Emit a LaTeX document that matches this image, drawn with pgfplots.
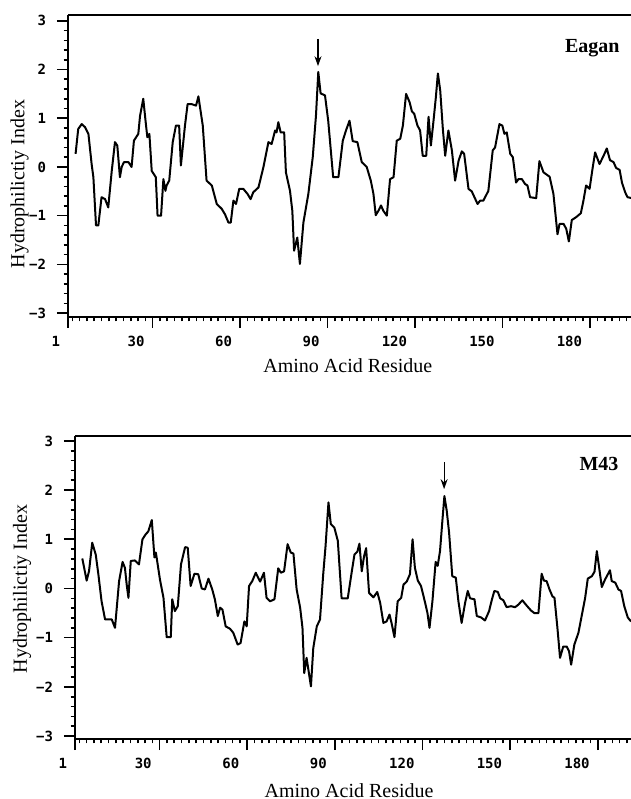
\documentclass[border=0pt]{standalone}
\usepackage{fontspec}
\setmainfont{Liberation Serif}
\newfontfamily\tickfont{DejaVu Sans Mono}
\usepackage{pgfplots}
\pgfplotsset{compat=1.18}
\usetikzlibrary{arrows.meta}

% hydrophilicity profiles, residue vs index
\pgfplotstableread{
r v
3.6 0.27
4.5 0.78
5.7 0.88
6.8 0.82
8.0 0.68
9.1 0.06
9.7 -0.21
10.6 -1.20
11.4 -1.20
12.5 -0.62
13.7 -0.66
14.8 -0.83
16.0 -0.08
17.1 0.51
17.9 0.44
18.8 -0.21
19.4 0.00
20.2 0.10
21.7 0.10
22.8 0.00
23.6 0.54
25.1 0.68
25.7 1.05
26.8 1.40
27.7 0.88
28.2 0.61
28.9 0.68
29.7 -0.08
31.1 -0.21
31.7 -1.00
32.9 -1.00
33.7 -0.25
34.4 -0.49
34.8 -0.38
35.7 -0.28
36.9 0.51
38.0 0.85
39.1 0.85
39.7 0.03
41.1 0.85
42.0 1.29
43.4 1.29
44.9 1.26
45.7 1.45
47.2 0.85
48.5 -0.28
50.3 -0.38
52.0 -0.76
53.7 -0.86
54.8 -0.97
56.0 -1.14
56.8 -1.14
57.7 -0.69
58.6 -0.76
59.7 -0.45
61.1 -0.45
62.5 -0.55
63.6 -0.66
64.5 -0.52
66.3 -0.42
68.0 0.00
69.7 0.51
70.8 0.47
72.0 0.75
72.5 0.71
73.1 0.92
73.9 0.71
75.1 0.71
75.7 -0.11
77.1 -0.49
77.9 -0.90
78.5 -1.72
79.6 -1.45
80.5 -1.99
81.7 -1.14
83.4 -0.55
84.9 0.20
86.0 1.05
86.8 1.95
87.6 1.51
89.1 1.47
90.2 0.95
91.9 -0.21
93.7 -0.21
95.2 0.54
96.3 0.75
97.5 0.95
98.6 0.53
100.2 0.51
101.7 0.10
103.4 0.00
104.8 -0.28
105.7 -0.55
106.5 -0.99
107.4 -0.90
108.3 -0.79
109.1 -0.90
110.3 -1.00
111.4 -0.25
112.6 -0.21
113.7 0.54
114.9 0.58
115.8 0.85
116.9 1.50
118.1 1.33
118.9 1.14
119.7 1.09
120.8 0.85
121.7 0.75
122.6 0.23
123.8 0.23
124.6 1.03
125.4 0.44
126.3 0.95
127.1 1.43
127.8 1.92
128.6 1.57
129.5 0.78
130.3 0.23
131.4 0.75
132.6 0.34
133.7 -0.28
134.9 0.13
136.0 0.32
136.8 0.27
138.3 -0.45
139.4 -0.50
141.4 -0.76
142.3 -0.69
143.4 -0.69
145.1 -0.49
146.6 0.34
147.4 0.40
148.9 0.88
149.9 0.85
150.6 0.68
151.4 0.71
152.6 0.27
153.5 0.20
154.6 -0.32
155.4 -0.25
156.6 -0.25
157.7 -0.35
158.5 -0.38
159.4 -0.62
161.5 -0.64
162.6 0.12
164.0 -0.11
166.1 -0.20
167.4 -0.55
168.8 -1.38
169.5 -1.17
170.9 -1.17
171.8 -1.27
172.7 -1.53
173.7 -1.09
175.2 -1.03
176.8 -0.95
177.7 -0.69
178.6 -0.38
179.8 -0.45
180.9 0.00
181.7 0.30
183.2 0.06
184.6 0.23
185.7 0.38
186.8 0.14
188.0 0.10
188.9 -0.02
190.1 -0.06
190.9 -0.32
192.0 -0.52
192.8 -0.62
194.3 -0.64
}\eagan

\pgfplotstableread{
r v
3.5 0.61
5.0 0.16
5.8 0.35
6.9 0.93
8.1 0.69
9.0 0.29
10.1 -0.26
11.3 -0.63
13.6 -0.63
14.7 -0.80
16.1 0.15
17.3 0.54
18.1 0.42
18.7 0.08
19.3 -0.19
20.1 0.56
21.5 0.57
22.9 0.49
24.1 1.00
25.2 1.10
26.1 1.16
27.3 1.39
28.2 0.63
28.7 0.73
30.1 0.18
31.3 -0.19
32.4 -0.99
33.8 -0.99
34.3 -0.22
35.2 -0.46
36.2 -0.36
37.3 0.49
38.7 0.84
39.6 0.83
40.6 0.05
41.9 0.30
43.2 0.29
44.4 0.00
45.5 -0.02
46.7 0.20
48.0 -0.02
48.9 -0.22
49.9 -0.56
50.7 -0.39
51.5 -0.43
52.6 -0.77
54.1 -0.82
55.2 -0.90
56.7 -1.14
57.7 -1.11
59.0 -0.67
59.8 -0.77
60.6 0.05
61.7 0.15
62.9 0.32
64.4 0.14
65.7 0.32
66.6 -0.19
67.8 -0.26
69.3 -0.22
70.6 0.41
71.5 0.32
72.6 0.35
73.8 0.90
74.9 0.73
75.8 0.71
76.9 -0.02
78.1 -0.39
78.9 -0.80
79.5 -1.72
80.3 -1.41
81.8 -1.99
82.6 -1.21
83.8 -0.77
84.9 -0.63
86.0 0.29
86.8 0.86
87.8 1.75
88.6 1.31
89.8 1.24
91.0 0.97
92.3 -0.20
94.4 -0.20
95.8 0.35
96.7 0.69
97.7 0.75
98.4 0.91
99.2 0.35
100.0 0.66
100.7 0.82
101.7 -0.09
103.2 -0.18
104.5 -0.07
105.5 -0.29
106.6 -0.70
107.7 -0.67
108.7 -0.53
109.4 -0.70
110.4 -0.99
111.5 -0.26
112.7 -0.19
113.5 0.08
114.6 0.14
115.7 0.29
116.6 1.00
117.4 0.42
118.4 0.16
119.5 0.05
120.9 -0.29
121.7 -0.50
122.4 -0.80
123.4 -0.26
124.5 0.54
125.2 0.46
126.0 0.76
126.8 1.37
127.5 1.88
128.3 1.58
129.1 1.14
130.2 0.25
131.4 0.22
132.3 -0.26
133.4 -0.70
134.6 -0.29
135.5 -0.05
136.3 -0.20
137.8 -0.22
138.6 -0.56
140.1 -0.59
141.4 -0.65
142.8 -0.46
143.7 -0.24
144.6 -0.05
145.8 -0.07
146.6 -0.20
147.7 -0.24
148.8 -0.38
150.3 -0.36
151.7 -0.38
152.8 -0.33
154.2 -0.24
155.7 -0.35
157.2 -0.45
158.3 -0.50
159.7 -0.50
160.8 0.30
161.6 0.16
162.5 0.15
163.5 -0.02
164.5 -0.16
165.2 -0.19
166.2 -0.80
167.1 -1.41
168.2 -1.18
169.4 -1.18
170.2 -1.28
170.9 -1.55
172.0 -1.14
173.4 -0.90
174.7 -0.50
175.7 -0.19
176.6 0.20
178.0 0.25
178.9 0.34
179.7 0.76
180.5 0.42
181.4 0.03
182.5 0.18
184.2 0.37
184.8 0.15
186.0 0.12
187.1 -0.02
188.0 -0.05
189.1 -0.36
190.3 -0.59
191.4 -0.67
}\mfortythree

\pgfplotsset{hydro/.style={
  scale only axis,
  axis x line=box, axis y line=left,
  axis line style={-, line width=1.4pt},
  xtick pos=left,
  tick align=outside,
  major tick length=5.5pt, minor tick length=2.2pt,
  every tick/.style={black, line width=0.8pt},
  xmin=1,
  xtick={1,30,60,90,120,150,180},
  xticklabels={1,30,60,90,120,150,180},
  minor xtick={2.5,5,...,192.5},
  ytick={-3,-2,-1,0,1,2,3},
  yticklabels={−3,−2,−1,0,1,2,3},
  minor y tick num=4,
  ticklabel style={font=\tickfont\bfseries\fontsize{7}{8}\selectfont},
  x tick label style={anchor=north east, xshift=-0.5pt, yshift=-0.5pt},
  y tick label style={xshift=-2pt},
  xlabel={Amino Acid Residue},
  ylabel={Hydrophilictiy Index},
  label style={font=\fontsize{10}{12}\selectfont},
}}

\begin{document}
\begin{tikzpicture}
\useasboundingbox (0,0) rectangle (315.5pt,399.5pt);

\begin{axis}[hydro, at={(34pt,241pt)}, anchor=south west,
  width=281.5pt, height=151pt, xmax=194, ymin=-3.08, ymax=3.12,
  xlabel style={at={(axis description cs:0.497,0)}, anchor=base, yshift=-28pt},
  ylabel style={at={(axis description cs:-0.086,0.44)}, anchor=center}]
\addplot[black, line width=1pt, line join=round] table[x=r, y=v] {\eagan};
\draw[-{Stealth[length=5pt,width=3.5pt]}, line width=0.6pt] (axis cs:86.7,2.63) -- (axis cs:86.7,2.07);
\node[anchor=base east, font=\bfseries\fontsize{10}{12}\selectfont] at (axis cs:192.5,2.36) {Eagan};
\end{axis}

\begin{axis}[hydro, at={(37.5pt,30pt)}, anchor=south west,
  width=278pt, height=151.5pt, xmax=191.4, ymin=-3.06, ymax=3.1,
  xlabel style={at={(axis description cs:0.493,0)}, anchor=base, yshift=-29pt},
  ylabel style={at={(axis description cs:-0.095,0.495)}, anchor=center}]
\addplot[black, line width=1pt, line join=round] table[x=r, y=v] {\mfortythree};
\draw[-{Stealth[length=5pt,width=3.5pt]}, line width=0.6pt] (axis cs:127.4,2.57) -- (axis cs:127.4,2.02);
\node[anchor=base east, font=\bfseries\fontsize{10}{12}\selectfont] at (axis cs:189.5,2.39) {M43};
\end{axis}
\end{tikzpicture}
\end{document}
